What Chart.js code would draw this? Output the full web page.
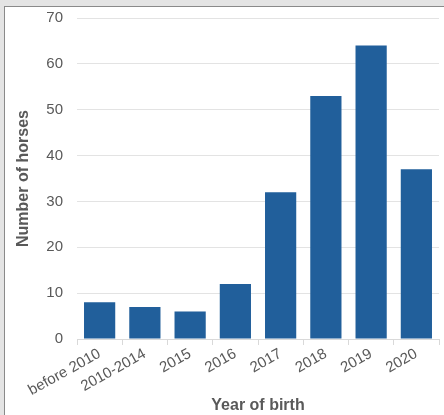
<!DOCTYPE html>
<html>
<head>
<meta charset="utf-8">
<script src="https://cdn.jsdelivr.net/npm/chart.js@4/dist/chart.umd.min.js"></script>
<style>
  html, body { margin: 0; padding: 0; }
  body { width: 444px; height: 415px; background: #e4e4e4; overflow: hidden; position: relative; }
  #panel {
    position: absolute; left: 4px; top: 6px; width: 440px; height: 409px; overflow: hidden;
    background: #ffffff; border-left: 1px solid #8a8a8a; border-top: 1px solid #8a8a8a;
  }
  #wrap { position: absolute; left: 0; top: -12px; width: 439px; height: 420px; }
</style>
</head>
<body>
<div id="panel"><div id="wrap"><canvas id="chart"></canvas></div></div>
<script>
// Horses by year of birth
const categories = ['before 2010', '2010-2014', '2015', '2016', '2017', '2018', '2019', '2020'];
const horseCounts = [8, 7, 6, 12, 32, 53, 64, 37];
const yTicks = [0, 10, 20, 30, 40, 50, 60, 70];

const FONT = "'Liberation Sans', Arial, sans-serif";
const TEXT = '#595959';

new Chart(document.getElementById('chart'), {
  type: 'bar',
  data: {
    labels: categories,
    datasets: [{
      data: horseCounts,
      backgroundColor: '#215f9b',
      borderWidth: 0,
      barPercentage: 0.69,
      categoryPercentage: 1.0
    }]
  },
  options: {
    responsive: true,
    maintainAspectRatio: false,
    animation: false,
    layout: { padding: { top: 0, right: 5, left: 9, bottom: 0 } },
    plugins: { legend: { display: false }, tooltip: { enabled: false } },
    scales: {
      x: {
        offset: true,
        grid: { offset: true, drawOnChartArea: false, drawTicks: true, tickLength: 6, color: '#d9d9d9' },
        border: { color: '#d9d9d9' },
        ticks: {
          color: TEXT, font: { family: FONT, size: 15 },
          minRotation: 29, maxRotation: 29, padding: 0, autoSkip: false
        },
        title: {
          display: true, text: 'Year of birth', color: TEXT,
          font: { family: FONT, size: 16, weight: 'bold' }, padding: { top: 0, bottom: 0 }
        },
        afterFit: (s) => { s.height = 76; }
      },
      y: {
        min: 0, max: 70,
        afterBuildTicks: (s) => { s.ticks = yTicks.map(v => ({ value: v })); },
        grid: { drawTicks: false, color: '#e3e3e3' },
        border: { display: false },
        ticks: { color: TEXT, font: { family: FONT, size: 15 }, padding: 14 },
        title: {
          display: true, text: 'Number of horses', color: TEXT,
          font: { family: FONT, size: 16, weight: 'bold' }, padding: { top: 0, bottom: 0 }
        },
        afterFit: (s) => { s.width = 63; }
      }
    }
  }
});
</script>
</body>
</html>
